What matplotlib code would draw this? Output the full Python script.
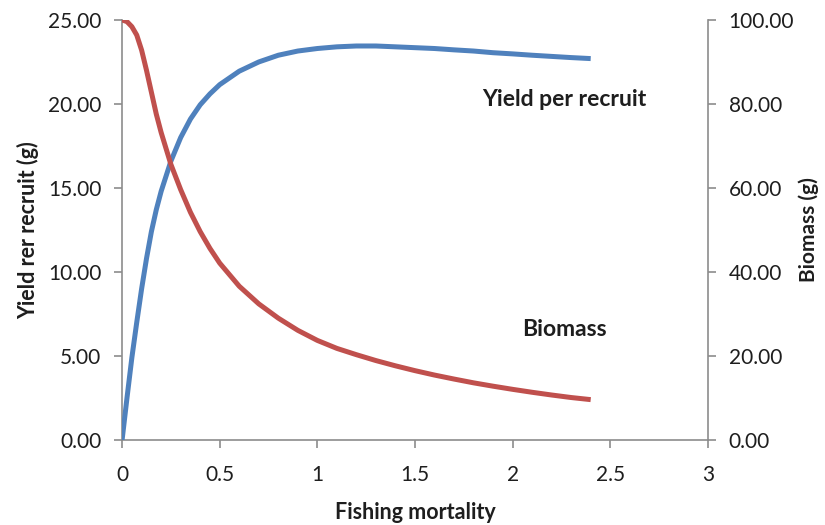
import matplotlib
matplotlib.use("Agg")
import matplotlib.pyplot as plt
from matplotlib.ticker import FormatStrFormatter

# fishing mortality F
mortality = [0, 0.025, 0.05, 0.075, 0.1, 0.125, 0.15, 0.175, 0.2, 0.25,
             0.3, 0.35, 0.4, 0.45, 0.5, 0.6, 0.7, 0.8, 0.9, 1.0,
             1.1, 1.2, 1.3, 1.4, 1.5, 1.6, 1.7, 1.8, 1.9, 2.0,
             2.1, 2.2, 2.3, 2.4]

# yield per recruit (g), left axis
yield_pr = [0, 2.5, 4.9, 7.0, 9.0, 10.8, 12.4, 13.7, 14.8, 16.6,
            18.0, 19.1, 19.95, 20.6, 21.15, 21.95, 22.5, 22.9, 23.15, 23.3,
            23.4, 23.45, 23.45, 23.4, 23.35, 23.3, 23.22, 23.15, 23.05, 22.98,
            22.9, 22.83, 22.76, 22.7]

# biomass (g), right axis
biomass = [100, 99.6, 98.4, 96.4, 92.8, 88.0, 82.8, 77.6, 73.2, 65.6,
           59.6, 54.2, 49.6, 45.6, 42.1, 36.6, 32.4, 29.0, 26.1, 23.7,
           21.8, 20.3, 18.9, 17.65, 16.5, 15.45, 14.5, 13.6, 12.8, 12.05,
           11.35, 10.7, 10.1, 9.6]

left_ticks = [0, 5, 10, 15, 20, 25]
right_ticks = [0, 20, 40, 60, 80, 100]
x_ticks = [0, 0.5, 1, 1.5, 2, 2.5, 3]

plt.rcParams['font.family'] = ['Lato', 'DejaVu Sans']
blue = '#4f81bd'
red = '#c0504d'
grey = '#8c8c8c'
txt = '#1e1e1e'

fig = plt.figure(figsize=(8.25, 5.25), dpi=100)
ax = fig.add_axes([0.148, 0.162, 0.71, 0.8])
ax2 = ax.twinx()

ax.plot(mortality, yield_pr, color=blue, lw=3.6, solid_capstyle='butt', zorder=3)
ax2.plot(mortality, biomass, color=red, lw=3.6, solid_capstyle='butt', zorder=3)

ax.set_xlim(0, 3)
ax.set_ylim(0, 25)
ax2.set_ylim(0, 100)
ax.set_xticks(x_ticks)
ax.set_xticklabels([f'{t:g}' for t in x_ticks])
ax.set_yticks(left_ticks)
ax2.set_yticks(right_ticks)
ax.yaxis.set_major_formatter(FormatStrFormatter('%.2f'))
ax2.yaxis.set_major_formatter(FormatStrFormatter('%.2f'))

for a in (ax, ax2):
    a.spines['top'].set_visible(False)
    for s in ('left', 'right', 'bottom'):
        a.spines[s].set_color(grey)
        a.spines[s].set_linewidth(1.2)
    a.tick_params(colors=grey, labelcolor=txt, labelsize=15, length=6,
                  width=1.2, pad=9)
ax.tick_params(axis='x', pad=12)
ax.spines['right'].set_visible(False)
ax2.spines['left'].set_visible(False)
ax2.spines['bottom'].set_visible(False)

ax.set_xlabel('Fishing mortality', fontsize=15.5, fontweight='bold', color=txt, labelpad=12)
ax.set_ylabel('Yield rer recruit (g)', fontsize=15.5, fontweight='bold', color=txt, labelpad=6)
ax2.set_ylabel('Biomass (g)', fontsize=15, fontweight='bold', color=txt)
# keep the right title inside the canvas
ax2.yaxis.label.set_verticalalignment('center')
ax2.yaxis.set_label_coords(1.172, 0.5)

ax.text(2.266, 20.24, 'Yield per recruit', fontsize=16.5, fontweight='bold',
        color=txt, ha='center', va='center')
ax.text(2.266, 6.6, 'Biomass', fontsize=16.5, fontweight='bold',
        color=txt, ha='center', va='center')

fig.savefig('out.png', dpi=100)
